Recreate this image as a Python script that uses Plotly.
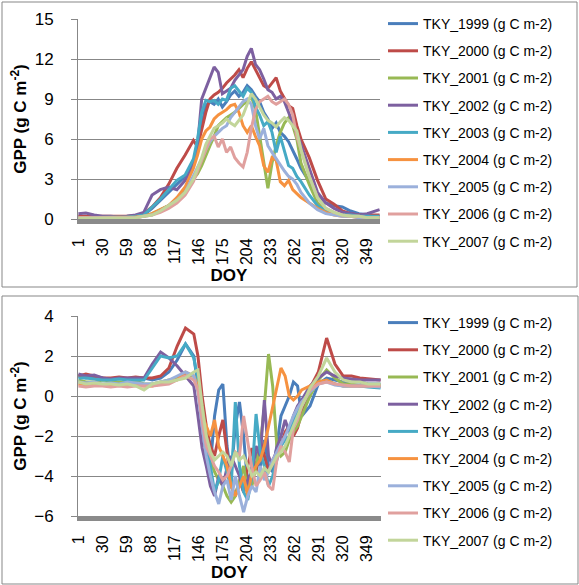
import plotly.graph_objects as go

W, H = 579, 585

doy = [1, 10, 20, 30, 40, 50, 60, 70, 80, 90, 100, 110, 120, 130, 140, 145, 150, 155, 160, 165,
       170, 175, 180, 185, 190, 195, 200, 205, 210, 215, 220, 225, 230, 235, 240, 245, 250, 255,
       260, 265, 270, 280, 290, 300, 310, 320, 330, 340, 350, 365]

series_names = ["TKY_1999 (g C m-2)", "TKY_2000 (g C m-2)", "TKY_2001 (g C m-2)",
                "TKY_2002 (g C m-2)", "TKY_2003 (g C m-2)", "TKY_2004 (g C m-2)",
                "TKY_2005 (g C m-2)", "TKY_2006 (g C m-2)", "TKY_2007 (g C m-2)"]

# ---- top panel: GPP ----
gpp_1999 = [0.2,0.15,0.2,0.15,0.1,0.15,0.2,0.2,0.3,0.8,1.4,2.0,2.6,3.2,4.2,5.5,7.0,8.5,8.8,8.6,9.0,8.4,8.8,9.3,9.6,9.2,9.5,10.0,9.7,9.2,8.8,8.0,7.5,6.8,7.2,6.5,6.2,5.8,5.2,4.5,3.8,2.8,1.8,1.2,1.0,0.9,0.6,0.4,0.3,0.2]
gpp_2000 = [0.2,0.2,0.2,0.2,0.15,0.2,0.2,0.25,0.4,0.9,1.6,2.6,3.8,4.8,5.9,5.4,6.8,8.0,9.0,9.3,9.5,9.8,10.2,10.5,10.8,11.2,10.6,11.3,11.8,11.2,10.6,10.0,9.8,10.2,10.6,9.6,9.1,8.5,8.3,7.0,6.0,4.6,2.9,1.5,1.1,0.6,0.4,0.3,0.3,0.3]
gpp_2001 = [0.1,0.1,0.1,0.1,0.1,0.1,0.1,0.15,0.2,0.4,0.7,1.0,1.5,2.2,3.0,3.4,4.0,4.8,5.5,6.2,7.0,7.3,7.6,7.8,8.0,8.3,8.6,8.8,9.2,8.2,6.2,4.0,2.3,4.2,5.5,6.5,7.2,7.6,7.0,6.0,4.2,2.6,1.2,0.6,0.4,0.3,0.2,0.2,0.1,0.1]
gpp_2002 = [0.4,0.45,0.3,0.2,0.2,0.15,0.2,0.3,0.5,1.8,2.2,2.4,2.2,2.9,4.0,5.5,9.0,9.8,10.5,11.4,11.0,9.4,9.6,9.8,10.4,10.8,11.2,12.2,12.8,11.6,11.2,10.5,9.7,9.5,9.0,9.2,8.8,8.0,7.2,6.5,5.6,3.8,2.0,1.2,0.8,0.5,0.4,0.3,0.4,0.7]
gpp_2003 = [0.1,0.1,0.1,0.1,0.1,0.1,0.15,0.2,0.3,0.9,1.5,2.2,2.9,3.3,4.5,6.0,8.0,8.9,8.8,8.9,8.6,9.0,8.9,9.8,10.0,9.6,9.2,9.8,9.5,8.4,7.8,7.0,7.3,6.5,5.0,6.2,5.0,4.0,3.8,3.2,2.8,1.8,1.0,0.6,0.4,0.3,0.3,0.2,0.2,0.2]
gpp_2004 = [0.1,0.1,0.1,0.1,0.1,0.1,0.1,0.15,0.2,0.4,0.7,1.0,1.6,2.4,3.8,4.8,6.0,6.6,6.9,7.5,7.8,8.0,8.2,8.5,8.6,8.0,7.0,6.5,7.0,6.2,5.5,4.0,3.5,4.6,4.4,2.8,2.5,2.9,2.2,1.9,1.6,1.2,0.8,0.5,0.3,0.2,0.2,0.1,0.1,0.1]
gpp_2005 = [0.1,0.1,0.1,0.1,0.1,0.1,0.1,0.1,0.2,0.3,0.6,1.0,1.4,2.0,3.2,3.8,4.5,5.2,5.8,6.2,6.5,6.8,7.0,7.6,8.0,8.4,8.8,9.0,8.6,7.0,6.0,6.8,5.5,5.0,4.5,4.0,3.6,3.2,3.0,2.6,2.0,1.2,0.7,0.4,0.3,0.2,0.2,0.1,0.1,0.1]
gpp_2006 = [0.1,0.1,0.1,0.1,0.1,0.1,0.1,0.1,0.2,0.3,0.5,0.8,1.2,1.8,2.8,3.6,4.4,5.2,6.0,6.2,5.4,6.0,5.0,5.4,4.6,4.2,3.9,5.0,6.8,8.2,8.8,9.0,9.2,8.8,8.6,8.8,9.0,8.6,7.8,6.2,5.2,3.2,1.6,0.8,0.5,0.3,0.2,0.2,0.1,0.1]
gpp_2007 = [0.05,0.05,0.1,0.1,0.05,0.1,0.1,0.1,0.2,0.3,0.6,1.0,1.4,2.0,3.0,3.8,4.6,5.6,6.2,6.8,7.0,7.2,7.5,7.2,7.0,7.4,7.8,8.6,9.4,9.0,8.4,7.8,7.4,7.2,6.9,7.3,7.6,7.4,7.0,6.6,5.2,3.2,1.6,0.8,0.5,0.3,0.2,0.2,0.1,0.1]

# ---- bottom panel ----
low_1999 = [1.0,0.9,0.95,0.9,0.8,0.9,0.85,0.9,0.9,0.8,0.9,1.2,1.8,2.6,2.0,0.5,-1.5,-3.0,-3.5,-1.0,0.3,0.6,-2.5,-4.0,-1.5,-0.3,-2.0,-4.5,-3.5,-2.8,-3.6,-2.2,-3.5,-3.8,-2.5,-1.0,-0.5,0.0,0.7,0.5,-1.0,-0.5,0.6,0.9,0.8,0.7,0.7,0.7,0.6,0.6]
low_2000 = [1.0,1.1,1.0,0.9,0.9,0.95,0.9,0.95,0.9,0.9,1.0,1.4,2.5,3.4,3.1,2.0,0.0,-1.5,-2.5,-3.0,-2.0,-1.2,-2.8,-4.5,-5.0,-4.2,-4.8,-3.5,-2.6,-3.8,-2.2,-3.0,-3.8,-3.2,-2.8,-2.5,-1.8,-1.5,-2.0,-1.6,-0.8,0.4,1.2,2.9,1.6,1.0,1.0,0.9,0.85,0.8]
low_2001 = [0.8,0.7,0.7,0.8,0.75,0.7,0.7,0.75,0.6,0.6,0.7,0.8,0.9,1.0,1.0,0.8,-0.5,-2.0,-3.2,-3.8,-4.2,-4.5,-5.0,-5.3,-5.0,-4.2,-3.5,-4.8,-4.5,-3.5,-2.5,-0.5,2.1,0.5,-2.5,-3.0,-2.8,-2.2,-1.8,-1.5,-1.0,0.0,0.8,1.3,0.9,0.6,0.6,0.5,0.5,0.5]
low_2002 = [1.1,1.0,1.05,0.9,0.85,0.9,0.9,0.9,0.9,1.6,2.2,1.9,1.5,1.0,0.5,-1.0,-2.6,-3.5,-4.5,-5.0,-4.0,-4.5,-3.6,-3.0,-3.5,-4.0,-4.8,-4.2,-3.8,-2.5,-3.0,-0.2,-3.0,-3.5,-2.6,-2.0,-1.2,-1.8,-1.0,-0.5,-0.2,0.5,0.9,1.2,1.0,0.9,0.85,0.8,0.8,0.8]
low_2003 = [0.9,0.9,0.85,0.8,0.8,0.85,0.8,0.8,0.8,1.4,2.0,1.9,2.0,2.6,1.9,0.8,-1.0,-2.2,-3.5,-4.8,-4.2,-3.0,-3.8,-4.6,-0.3,-3.5,-4.8,-5.2,-4.0,-0.9,-2.8,-3.5,-4.5,-4.0,-3.2,-2.5,-2.2,-2.0,-1.2,-0.8,-0.5,0.3,0.7,0.8,0.6,0.5,0.5,0.5,0.45,0.4]
low_2004 = [0.6,0.55,0.6,0.55,0.5,0.55,0.5,0.55,0.5,0.5,0.6,0.7,0.8,1.2,1.0,0.5,-1.0,-1.5,-2.0,-1.2,-2.5,-3.0,-3.5,-4.5,-5.0,-4.5,-4.0,-5.0,-3.8,-3.5,-3.2,-2.5,-1.5,-0.5,0.5,1.4,1.0,0.0,-0.2,0.0,0.3,0.5,0.7,0.8,0.6,0.5,0.5,0.5,0.5,0.5]
low_2005 = [0.7,0.65,0.7,0.6,0.65,0.6,0.7,0.65,0.6,0.6,0.7,0.8,1.0,1.2,1.0,0.2,-1.5,-3.0,-4.0,-4.8,-5.4,-4.5,-4.2,-5.2,-4.0,-5.0,-5.8,-5.0,-4.5,-4.8,-3.5,-4.2,-3.8,-3.2,-2.8,-2.4,-2.0,-1.5,-1.0,-0.6,-0.3,0.2,0.6,0.7,0.55,0.5,0.5,0.5,0.5,0.45]
low_2006 = [0.5,0.45,0.5,0.5,0.45,0.5,0.45,0.5,0.5,0.5,0.55,0.6,0.8,1.0,0.8,0.3,-1.2,-2.5,-3.0,-3.5,-3.8,-4.2,-4.0,-3.5,-2.8,-3.0,-1.0,-2.2,-3.6,-4.5,-4.2,-3.8,-4.5,-4.7,-3.2,-2.5,-2.8,-3.3,-1.6,-1.2,-0.5,0.3,0.6,0.7,0.6,0.55,0.5,0.5,0.5,0.5]
low_2007 = [0.7,0.6,0.65,0.6,0.6,0.55,0.6,0.5,0.3,0.6,0.7,0.7,0.8,0.9,1.2,1.3,-0.5,-2.0,-2.8,-3.2,-3.0,-2.8,-3.0,-3.5,-2.8,-3.2,-3.0,-3.5,-4.0,-3.8,-4.0,-3.6,-3.8,-3.4,-3.0,-2.8,-2.5,-2.0,-1.5,-1.0,-0.5,0.4,1.0,1.9,1.2,0.8,0.7,0.7,0.6,0.6]

x_tick_vals = [1, 30, 59, 88, 117, 146, 175, 204, 233, 262, 291, 320, 349]
x_tick_text = [str(v) for v in x_tick_vals]
top_y_ticks = [0, 3, 6, 9, 12, 15]
bot_y_ticks = [-6, -4, -2, 0, 2, 4]

top_series = [gpp_1999, gpp_2000, gpp_2001, gpp_2002, gpp_2003, gpp_2004, gpp_2005, gpp_2006, gpp_2007]
bot_series = [low_1999, low_2000, low_2001, low_2002, low_2003, low_2004, low_2005, low_2006, low_2007]

colors = ["#4A7EBB", "#BE4B48", "#98B954", "#7D60A0", "#46AAC5", "#F69240",
          "#9BB0DB", "#E0A09E", "#C2D59A"]

FONT = "Liberation Sans, Arial, sans-serif"
GRID = "#878787"

fig = go.Figure()
for name, vals, c in zip(series_names, top_series, colors):
    fig.add_trace(go.Scatter(x=doy, y=vals, mode="lines", name=name,
                             line=dict(color=c, width=3),
                             xaxis="x", yaxis="y", legend="legend",
                             legendgroup="top_" + name))
for name, vals, c in zip(series_names, bot_series, colors):
    fig.add_trace(go.Scatter(x=doy, y=vals, mode="lines", name=name,
                             line=dict(color=c, width=3),
                             xaxis="x2", yaxis="y2", legend="legend2",
                             legendgroup="bot_" + name))

def px_x(p):
    return p / W

def px_y(p):
    return 1 - p / H

xcommon = dict(range=[0.5, 365.5], tickmode="array", tickvals=x_tick_vals, ticktext=x_tick_text,
               tickangle=-90, showgrid=False, zeroline=False, showline=True, automargin=False,
               linecolor="#8A8A8A", linewidth=5, ticks="", ticklabelstandoff=8,
               tickfont=dict(family=FONT, size=16, color="#000000"),
               title=dict(text="<b>DOY</b>", font=dict(family=FONT, size=17, color="#000000"), standoff=6))
ycommon = dict(showgrid=True, gridcolor=GRID, gridwidth=1, zeroline=False, showline=True,
               automargin=False,
               linecolor=GRID, linewidth=1, ticks="outside", ticklen=6, tickcolor=GRID,
               ticklabelstandoff=14,
               tickfont=dict(family=FONT, size=17, color="#000000"),
               title=dict(text="<b>GPP (g C m<sup>-2</sup>)</b>",
                          font=dict(family=FONT, size=17, color="#000000"), standoff=3))

legcommon = dict(font=dict(family=FONT, size=14, color="#000000"), tracegroupgap=6,
                 itemwidth=30, bgcolor="rgba(0,0,0,0)", xanchor="left", yanchor="top",
                 traceorder="grouped", itemclick=False, itemdoubleclick=False)

fig.update_layout(
    width=W, height=H, margin=dict(l=0, r=0, t=0, b=0, autoexpand=False),
    paper_bgcolor="white", plot_bgcolor="white", showlegend=True,
    xaxis=dict(domain=[px_x(78), px_x(380)], anchor="y", **xcommon),
    yaxis=dict(domain=[px_y(219), px_y(19)], anchor="x", range=[0, 15],
               tickvals=top_y_ticks, **ycommon),
    xaxis2=dict(domain=[px_x(78), px_x(381)], anchor="y2", **xcommon),
    yaxis2=dict(domain=[px_y(516), px_y(316)], anchor="x2", range=[-6, 4],
                tickvals=bot_y_ticks, **ycommon),
    legend=dict(x=px_x(383), y=px_y(8), **legcommon),
    legend2=dict(x=px_x(383), y=px_y(307), **legcommon),
    shapes=[
        dict(type="rect", xref="paper", yref="paper", x0=px_x(2), x1=px_x(577),
             y0=px_y(287), y1=px_y(2), line=dict(color="#878787", width=1), layer="below"),
        dict(type="rect", xref="paper", yref="paper", x0=px_x(2), x1=px_x(578),
             y0=px_y(584), y1=px_y(296), line=dict(color="#878787", width=1), layer="below"),
    ],
)

fig.write_html("out.html", config={"displayModeBar": False},
               post_script="document.body.style.margin='0px';document.body.style.overflow='hidden';")
